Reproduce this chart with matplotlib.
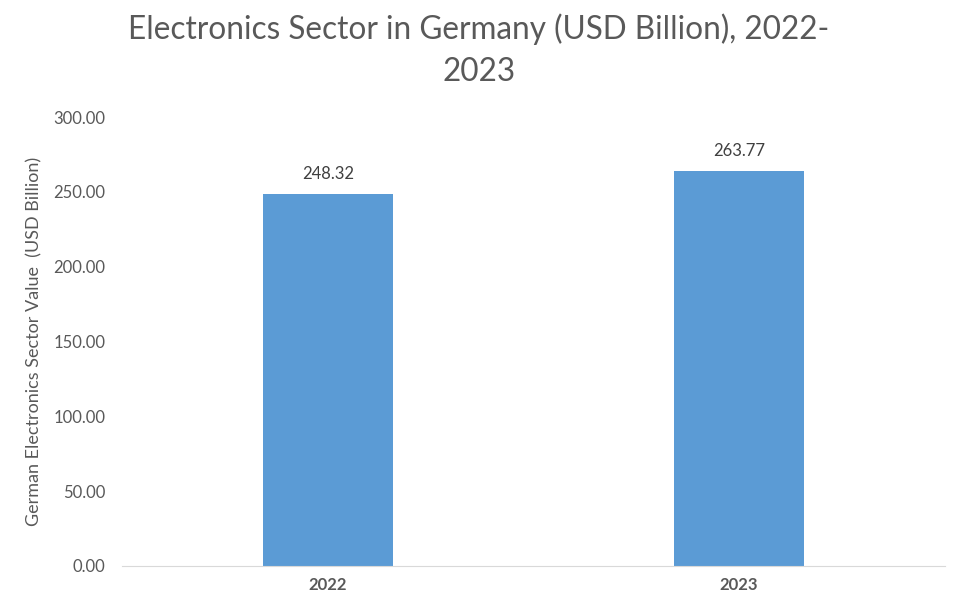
import matplotlib
matplotlib.use('Agg')
import matplotlib.pyplot as plt

years = ['2022', '2023']
values = [248.32, 263.77]

plt.rcParams['font.family'] = ['Lato', 'DejaVu Sans']
grey = '#595959'

fig = plt.figure(figsize=(9.64, 6), dpi=100)
ax = fig.add_axes([0.1266, 0.0567, 0.8534, 0.7483])

x = range(len(years))
bars = ax.bar(x, values, width=0.316, color='#5b9bd5')
for b, v in zip(bars, values):
    ax.text(b.get_x() + b.get_width() / 2, v + 8, '{:.2f}'.format(v),
            ha='center', va='bottom', fontsize=12, color='#404040')

ax.set_xlim(-0.5, 1.5)
ax.set_ylim(0, 300)
ax.set_yticks(range(0, 301, 50))
ax.set_yticklabels(['{:.2f}'.format(t) for t in range(0, 301, 50)])
ax.set_xticks(list(x))
ax.set_xticklabels(years, fontweight='bold')
ax.tick_params(axis='both', length=0, labelsize=12, colors=grey)
ax.tick_params(axis='y', pad=12)
ax.tick_params(axis='x', pad=8)
for s in ['top', 'right', 'left']:
    ax.spines[s].set_visible(False)
ax.spines['bottom'].set_color('#d9d9d9')

ax.set_ylabel('German Electronics Sector Value  (USD Billion)', fontsize=13,
              color=grey, labelpad=8)
fig.text(0.497, 0.978, 'Electronics Sector in Germany (USD Billion), 2022-\n2023',
         ha='center', va='top', fontsize=22.7, color=grey, linespacing=1.5)

fig.savefig('out.png', dpi=100)
